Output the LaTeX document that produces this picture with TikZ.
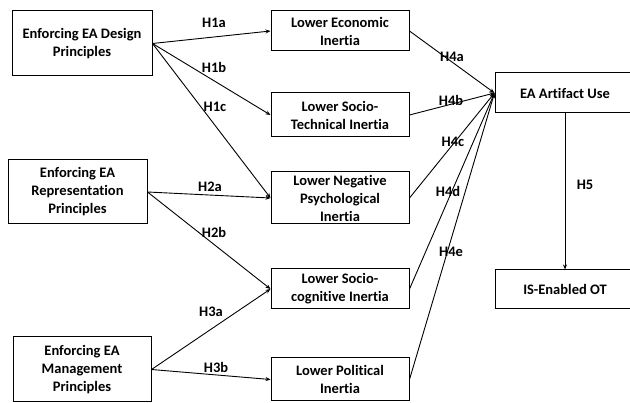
\documentclass[tikz,border=0pt]{standalone}
\usepackage{fontspec}
\setmainfont{Carlito}[Ligatures=NoCommon]
\usetikzlibrary{arrows.meta}

\begin{document}
\begin{tikzpicture}[x=1pt, y=-1pt,
    box/.style={draw, line width=1pt, align=center, inner sep=2pt,
                font=\fontsize{14.5}{18}\selectfont\bfseries},
    link/.style={line width=0.9pt, -{Stealth[length=5pt, width=4pt]}},
    hyp/.style={font=\fontsize{14.5}{16}\selectfont\bfseries, inner sep=0pt}]
    \useasboundingbox (0,0) rectangle (630,403);

    % Enforcing principles
    \node[box, minimum width=140pt, minimum height=65pt] (design) at (82,43.5) {Enforcing EA Design\\Principles};
    \node[box, minimum width=139pt, minimum height=64pt] (repr) at (77.5,192) {Enforcing EA\\Representation\\Principles};
    \node[box, minimum width=138pt, minimum height=65pt] (mgmt) at (82,369.5) {Enforcing EA\\Management\\Principles};

    % Inertia
    \node[box, minimum width=138pt, minimum height=40pt] (econ) at (340,31) {Lower Economic\\Inertia};
    \node[box, minimum width=138pt, minimum height=44pt] (soctech) at (340,115) {Lower Socio-\\Technical Inertia};
    \node[box, minimum width=138pt, minimum height=52pt] (negpsych) at (340,198) {Lower Negative\\Psychological\\Inertia};
    \node[box, minimum width=138pt, minimum height=40pt] (soccog) at (340,289) {Lower Socio-\\cognitive Inertia};
    \node[box, minimum width=138pt, minimum height=43pt] (political) at (340,379.5) {Lower Political\\Inertia};

    % Outcomes
    \node[box, minimum width=140pt, minimum height=40pt] (artifact) at (565,93) {EA Artifact Use};
    \node[box, minimum width=140pt, minimum height=39pt] (isot) at (565,289.5) {IS-Enabled OT};

    % Hypotheses
    \draw[link] (design.east) -- (econ.west);
    \draw[link] (design.east) -- (soctech.west);
    \draw[link] (design.east) -- (negpsych.west);
    \draw[link] (repr.east) -- (negpsych.west);
    \draw[link] (repr.east) -- (soccog.west);
    \draw[link] (mgmt.east) -- (soccog.west);
    \draw[link] (mgmt.east) -- (political.west);
    \foreach \src in {econ,soctech,negpsych,soccog,political}
        \draw[link] (\src.east) -- (artifact.west);
    \draw[link] (artifact.south) -- (isot.north);

    % Labels
    \foreach \lab/\x/\y in {H1a/214/23, H1b/214/67, H1c/215/107, H2a/210/187,
                            H2b/214/232, H3a/211/312, H3b/216/367,
                            H4a/452/57, H4b/451/100, H4c/453/142, H4d/448/191,
                            H4e/451/252, H5/585/185}
        \node[hyp] (\lab) at (\x,\y) {\lab};
\end{tikzpicture}
\end{document}
